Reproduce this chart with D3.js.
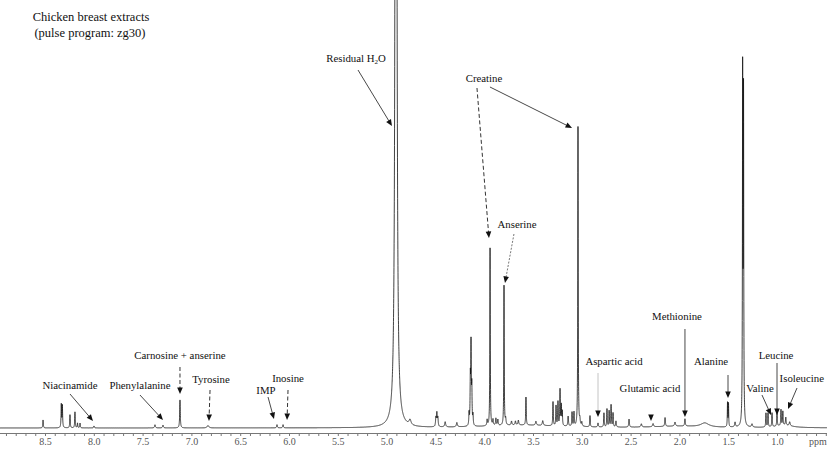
<!DOCTYPE html>
<html><head><meta charset="utf-8">
<script src="https://cdn.jsdelivr.net/npm/d3@7"></script>
<style>
html,body{margin:0;padding:0;background:#fff;}
svg{display:block;}
text{font-family:"Liberation Serif","Times New Roman",serif;}
</style></head>
<body>
<svg id="chart" width="827" height="451"></svg>
<script>
// ---- Data: resonance lines (ppm, relative intensity, half-width ppm) ----
const peakPpm = [
  8.52, 8.333, 8.322, 8.244, 8.193, 8.167, 8.141, 7.998,
  7.373, 7.291, 7.117, 6.83, 6.123, 6.061,
  4.904, 4.76, 4.495, 4.485, 4.475, 4.40, 4.28,
  4.155, 4.142, 4.135, 4.127, 4.115,
  3.97, 3.94, 3.91, 3.88, 3.86, 3.797, 3.78, 3.72, 3.68, 3.65,
  3.572, 3.47, 3.40, 3.295, 3.264, 3.244, 3.223, 3.21, 3.20, 3.14,
  3.10, 3.08, 3.039, 3.02, 3.00, 2.916, 2.834,
  2.773, 2.742, 2.72, 2.70, 2.68, 2.65, 2.516, 2.39, 2.27,
  2.147, 2.045, 1.943, 1.74, 1.507, 1.497, 1.43, 1.352, 1.343, 1.256,
  1.113, 1.092, 1.051, 1.0, 0.959, 0.94, 0.91, 0.87,
  3.6, 2.0, 0.92
];
const peakHeight = [
  2, 5.8, 5.5, 3.3, 4, 1.2, 1.2, 0.5,
  0.8, 0.7, 7, 0.6, 0.8, 0.8,
  600, 1.3, 2.2, 3.3, 2.2, 1.3, 1.1,
  3, 11, 19.5, 9, 2.5,
  1.5, 44.5, 1.5, 1.8, 1.5, 35, 1.5, 1, 1, 1.2,
  7, 1, 1.2, 6, 5, 6, 9, 5, 3.5, 2.5,
  3.5, 3.5, 75, 1.5, 1, 2.8, 1,
  3.5, 4.5, 4, 5.5, 3.5, 1.5, 2, 0.8, 0.8,
  2.2, 1, 1.8, 1.0, 6.0, 5.8, 1.2, 87, 81, 0.8,
  3.5, 3.5, 3.5, 3.8, 4, 3.5, 2, 1,
  0.7, 0.4, 0.6
];
const peakWidth = [
  0.003, 0.003, 0.003, 0.003, 0.003, 0.003, 0.003, 0.004,
  0.005, 0.005, 0.0035, 0.01, 0.004, 0.004,
  0.0055, 0.012, 0.004, 0.004, 0.004, 0.006, 0.006,
  0.003, 0.003, 0.003, 0.003, 0.003,
  0.004, 0.0025, 0.004, 0.004, 0.004, 0.0025, 0.004, 0.005, 0.005, 0.005,
  0.003, 0.006, 0.006, 0.003, 0.003, 0.003, 0.003, 0.003, 0.003, 0.004,
  0.003, 0.003, 0.0025, 0.004, 0.004, 0.003, 0.004,
  0.003, 0.003, 0.003, 0.003, 0.003, 0.004, 0.004, 0.006, 0.006,
  0.004, 0.006, 0.004, 0.05, 0.0025, 0.0025, 0.005, 0.0025, 0.0025, 0.006,
  0.003, 0.003, 0.003, 0.003, 0.003, 0.003, 0.004, 0.006,
  0.45, 0.3, 0.1
];

// axis tick labels (ppm)
const tickLabels = ["8.5","8.0","7.5","7.0","6.5","6.0","5.5","5.0","4.5","4.0","3.5","3.0","2.5","2.0","1.5","1.0"];
const axisUnit = "ppm";

const titleLines = ["Chicken breast extracts", "(pulse program: zg30)"];

// annotations: label, label anchor (ppm, intensity), arrow from -> to (ppm, intensity), style
const annotations = [
  {label:"Residual H₂O", sub:true, tx:5.313, ty:91.5, x1:5.293, y1:89.5, x2:4.945, y2:75.5, style:"solid"},
  {label:"Creatine", tx:4.002, ty:86.5, x1:4.074, y1:85, x2:3.951, y2:47.5, style:"dashed"},
  {label:null, x1:3.941, y1:85.25, x2:3.100, y2:75, style:"solid"},
  {label:"Anserine", tx:3.664, ty:50, x1:3.695, y1:48.5, x2:3.787, y2:36.25, style:"dotted"},
  {label:"Carnosine + anserine", tx:7.117, ty:17.25, x1:7.117, y1:15.25, x2:7.117, y2:8.5, style:"dashed"},
  {label:"Niacinamide", tx:8.244, ty:9.75, x1:8.244, y1:8.5, x2:8.008, y2:1.75, style:"solid"},
  {label:"Phenylalanine", tx:7.527, ty:9.75, x1:7.527, y1:8.25, x2:7.291, y2:2, style:"solid"},
  {label:"Tyrosine", tx:6.799, ty:11.25, x1:6.809, y1:9.5, x2:6.82, y2:1.75, style:"dashed"},
  {label:"IMP", tx:6.236, ty:8.5, x1:6.215, y1:7.75, x2:6.154, y2:2.25, style:"solid"},
  {label:"Inosine", tx:6.010, ty:11.5, x1:6.010, y1:9.5, x2:6.020, y2:2, style:"dashed"},
  {label:"Aspartic acid", tx:2.670, ty:15.75, x1:2.834, y1:13.75, x2:2.834, y2:2.75, style:"light"},
  {label:"Glutamic acid", tx:2.301, ty:9, x1:2.291, y1:2.6, x2:2.291, y2:1.75, style:"head"},
  {label:"Methionine", tx:2.025, ty:27, x1:1.943, y1:24.75, x2:1.943, y2:2.75, style:"solid"},
  {label:"Alanine", tx:1.676, ty:15.75, x1:1.502, y1:13.25, x2:1.502, y2:7.5, style:"solid"},
  {label:"Leucine", tx:1.010, ty:17.25, x1:1.0, y1:16.25, x2:1.0, y2:3.25, style:"solid"},
  {label:"Valine", tx:1.174, ty:9, x1:1.154, y1:8.25, x2:1.061, y2:3.25, style:"solid"},
  {label:"Isoleucine", tx:0.746, ty:11.5, x1:0.795, y1:10, x2:0.887, y2:4.75, style:"solid"}
];

// ---- Layout ----
const W = 827, H = 451;
const svg = d3.select("#chart");
const x = d3.scaleLinear().domain([8.5, 1.0]).range([45, 777]);
const y = d3.scaleLinear().domain([0, 100]).range([428, 28]);
const ppmLeft = x.invert(0), ppmRight = x.invert(W);

// spectrum as sum of Lorentzian lines
const step = 0.0005;
const pts = [];
for (let p = ppmLeft; p >= ppmRight; p -= step) {
  let s = 0;
  for (let i = 0; i < peakPpm.length; i++) {
    const d = (p - peakPpm[i]) / peakWidth[i];
    s += peakHeight[i] / (1 + d * d);
  }
  pts.push([p, s]);
}
svg.append("defs").append("clipPath").attr("id","clip")
  .append("rect").attr("x",0).attr("y",0).attr("width",W).attr("height",430);

const line = d3.line().x(d => x(d[0])).y(d => Math.max(-5, y(d[1])));
svg.append("path").datum(pts)
  .attr("clip-path","url(#clip)")
  .attr("d", line)
  .attr("fill","none").attr("stroke","#111").attr("stroke-width",0.8);

// ---- Axis ----
const minorTicks = d3.range(89, 4, -1).map(v => v / 10).filter(v => v <= ppmLeft && v >= ppmRight);
const labelSet = new Set(tickLabels);
const axis = d3.axisBottom(x).tickValues(minorTicks).tickSize(3).tickSizeOuter(0)
  .tickFormat(d => labelSet.has(d3.format(".1f")(d)) ? d3.format(".1f")(d) : "");
const ag = svg.append("g").attr("transform","translate(0,433)").call(axis);
ag.select(".domain").remove();
ag.append("line").attr("x1",0).attr("x2",W).attr("y1",0.5).attr("y2",0.5).attr("stroke","#777").attr("stroke-width",1);
ag.selectAll(".tick line").attr("stroke","#777");
ag.selectAll(".tick text").attr("font-family","'Liberation Mono','DejaVu Sans Mono',monospace")
  .attr("font-size",10).attr("fill","#555").attr("dy","0.55em").attr("y",6);
ag.append("text").attr("x",818).attr("y",6).attr("dy","0.55em").attr("text-anchor","middle")
  .attr("font-family","'Liberation Mono','DejaVu Sans Mono',monospace").attr("font-size",10).attr("fill","#555")
  .text(axisUnit);

// ---- Title ----
svg.append("text").attr("x",91).attr("y",21).attr("text-anchor","middle").attr("font-size",12.5).attr("fill","#111").text(titleLines[0]);
svg.append("text").attr("x",90).attr("y",37).attr("text-anchor","middle").attr("font-size",12.5).attr("fill","#111").text(titleLines[1]);

// ---- Annotations ----
function head(g, xa, ya, xb, yb, color) {
  const ang = Math.atan2(yb - ya, xb - xa);
  const L = 6.5, Wd = 2.8;
  const bx = xb - L * Math.cos(ang), by = yb - L * Math.sin(ang);
  const px = -Math.sin(ang) * Wd, py = Math.cos(ang) * Wd;
  g.append("path").attr("d", `M${xb},${yb}L${bx+px},${by+py}L${bx-px},${by-py}Z`).attr("fill", color);
  return [bx, by];
}
const ann = svg.append("g");
annotations.forEach(a => {
  const xa = x(a.x1), ya = y(a.y1), xb = x(a.x2), yb = y(a.y2);
  if (a.style === "head") {
    head(ann, xb, yb - 7, xb, yb, "#111");
  } else {
    const g = ann.append("g");
    const ang = Math.atan2(yb-ya, xb-xa);
    const bx = xb - 6 * Math.cos(ang), by = yb - 6 * Math.sin(ang);
    const l = g.append("line").attr("x1",xa).attr("y1",ya).attr("x2",bx).attr("y2",by);
    if (a.style === "solid") l.attr("stroke","#333").attr("stroke-width",0.9);
    if (a.style === "dashed") l.attr("stroke","#333").attr("stroke-width",1).attr("stroke-dasharray","4,2.5");
    if (a.style === "dotted") l.attr("stroke","#666").attr("stroke-width",0.9).attr("stroke-dasharray","2,1.5");
    if (a.style === "light") l.attr("stroke","#c4c4c4").attr("stroke-width",1);
    head(g, xa, ya, xb, yb, "#111");
  }
  if (a.label) {
    const t = ann.append("text").attr("x", x(a.tx)).attr("y", y(a.ty)).attr("text-anchor","middle")
      .attr("font-size",10.8).attr("fill","#111");
    if (a.sub) {
      t.append("tspan").text("Residual H");
      t.append("tspan").attr("font-size",7).attr("dy",2).text("2");
      t.append("tspan").attr("dy",-2).text("O");
    } else t.text(a.label);
  }
});
</script>
</body></html>
